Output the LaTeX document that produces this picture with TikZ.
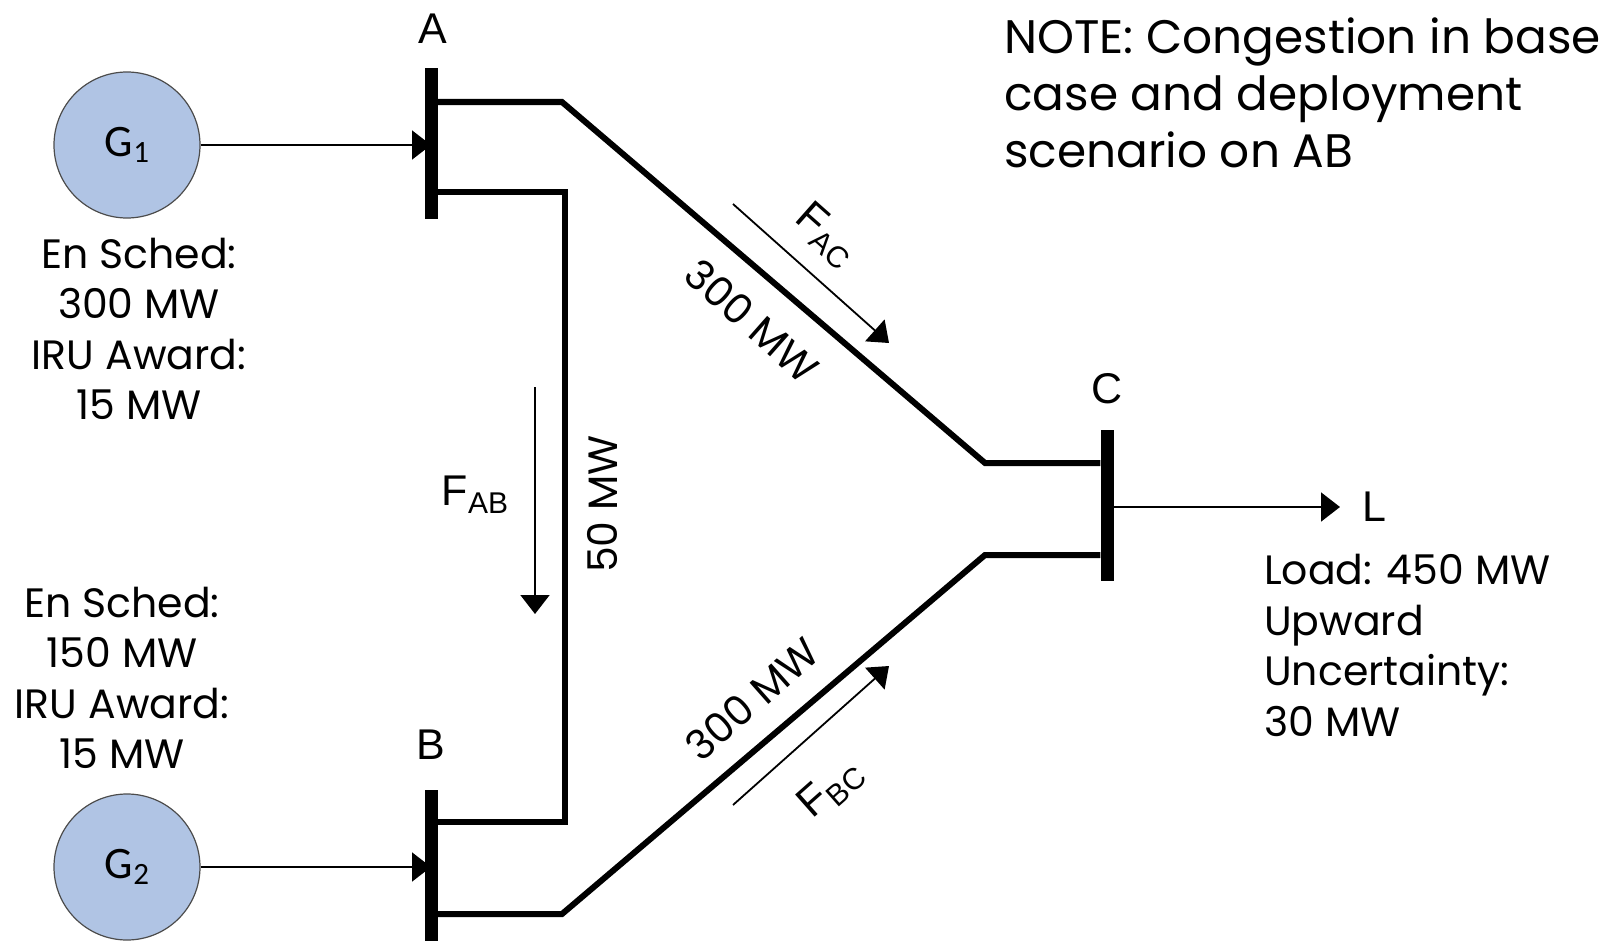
\documentclass[tikz,border=0pt]{standalone}
\usepackage{fontspec}
\setmainfont{Poppins}
\newfontfamily\arialf{Liberation Sans}
\newfontfamily\calf{Carlito}
\usetikzlibrary{arrows.meta,calc}
\definecolor{genblue}{RGB}{176,196,228}
\begin{document}
\begin{tikzpicture}[x=1pt,y=-1pt,
  bus/.style={rectangle,fill=black,draw=none,minimum width=13pt,minimum height=151pt,inner sep=0pt},
  gen/.style={circle,draw=black!70,fill=genblue,minimum size=146pt,inner sep=0pt,line width=1.2pt},
  tline/.style={line width=6pt,line join=miter},
  flow/.style={line width=1.8pt,-{Triangle[length=19pt,width=29pt]}},
  lbl/.style={font=\arialf\fontsize{43}{50}\selectfont,inner sep=0pt},
  txt/.style={font=\fontsize{41}{50.5}\selectfont,inner sep=0pt}]
\useasboundingbox (0,0) rectangle (1618,942);

% buses
\node[bus] (busA) at (431,143.5) {};
\node[bus] (busB) at (431,865.5) {};
\node[bus] (busC) at (1107,505.5) {};

% generators
\node[gen] (g1) at (127,145) {\calf\fontsize{45}{45}\selectfont G\raisebox{-0.3ex}{\fontsize{31}{31}\selectfont 1}};
\node[gen] (g2) at (127,867) {\calf\fontsize{45}{45}\selectfont G\raisebox{-0.3ex}{\fontsize{31}{31}\selectfont 2}};
\draw[flow] (g1.east) -- (busA.center |- g1.east);
\draw[flow] (g2.east) -- (busB.center |- g2.east);

% lines
\coordinate (a1) at (562,102);
\coordinate (c1) at (985,463);
\coordinate (a2) at (565,192);
\coordinate (b2) at (565,822);
\coordinate (b1) at (562,914);
\coordinate (c2) at (985,555);
\draw[tline] (busA.east |- a1) -- (a1) -- (c1) -- (busC.west |- c1);
\draw[tline] (busA.east |- a2) -- (a2) -- (b2) -- (busB.east |- b2);
\draw[tline] (busB.east |- b1) -- (b1) -- (c2) -- (busC.west |- c2);

% bus labels
\node[lbl] (lA) at (433,29) {A};
\node[lbl] (lB) at (431,745) {B};
\node[lbl] (lC) at (1107,389) {C};

% load
\node[lbl,anchor=west] (L) at (1362,507) {L};
\draw[flow] (busC.east |- L) -- ([xshift=-22pt]L.west);

% flow arrows
\coordinate (fab1) at (535,387);
\coordinate (fab2) at (535,614);
\draw[flow] (fab1) -- (fab2);
\node[lbl] (fab) at (475,495) {F\raisebox{-0.35ex}{\fontsize{30}{30}\selectfont AB}};

\coordinate (fac1) at (733,204);
\coordinate (fac2) at (889,343);
\draw[flow] (fac1) -- (fac2);
\node[lbl,rotate=-41.5] (fac) at (826,235) {F\raisebox{-0.35ex}{\fontsize{30}{30}\selectfont AC}};

\coordinate (fbc1) at (733,805);
\coordinate (fbc2) at (889,666);
\draw[flow] (fbc1) -- (fbc2);
\node[lbl,rotate=41.5] (fbc) at (831,789) {F\raisebox{-0.35ex}{\fontsize{30}{30}\selectfont BC}};

% line values
\node[txt,rotate=-41.5] (vac) at (752,321) {300 MW};
\node[txt,rotate=41.5] (vbc) at (752,699) {300 MW};
\node[txt,rotate=90] (vab) at (602,504) {50 MW};

% texts
\node[txt,align=center] (t1) at (139,329) {En Sched:\\300 MW\\IRU Award:\\15 MW};
\node[txt,align=center] (t2) at (122,678) {En Sched:\\150 MW\\IRU Award:\\15 MW};
\node[txt,align=left,anchor=north west] (tl) at (1264,554) {Load: 450 MW\\Upward\\Uncertainty:\\30 MW};
\node[txt,align=left,anchor=north west,font=\fontsize{47}{56.7}\selectfont] (note) at (1004,18) {NOTE: Congestion in base\\case and deployment\\scenario on AB};
\end{tikzpicture}
\end{document}
